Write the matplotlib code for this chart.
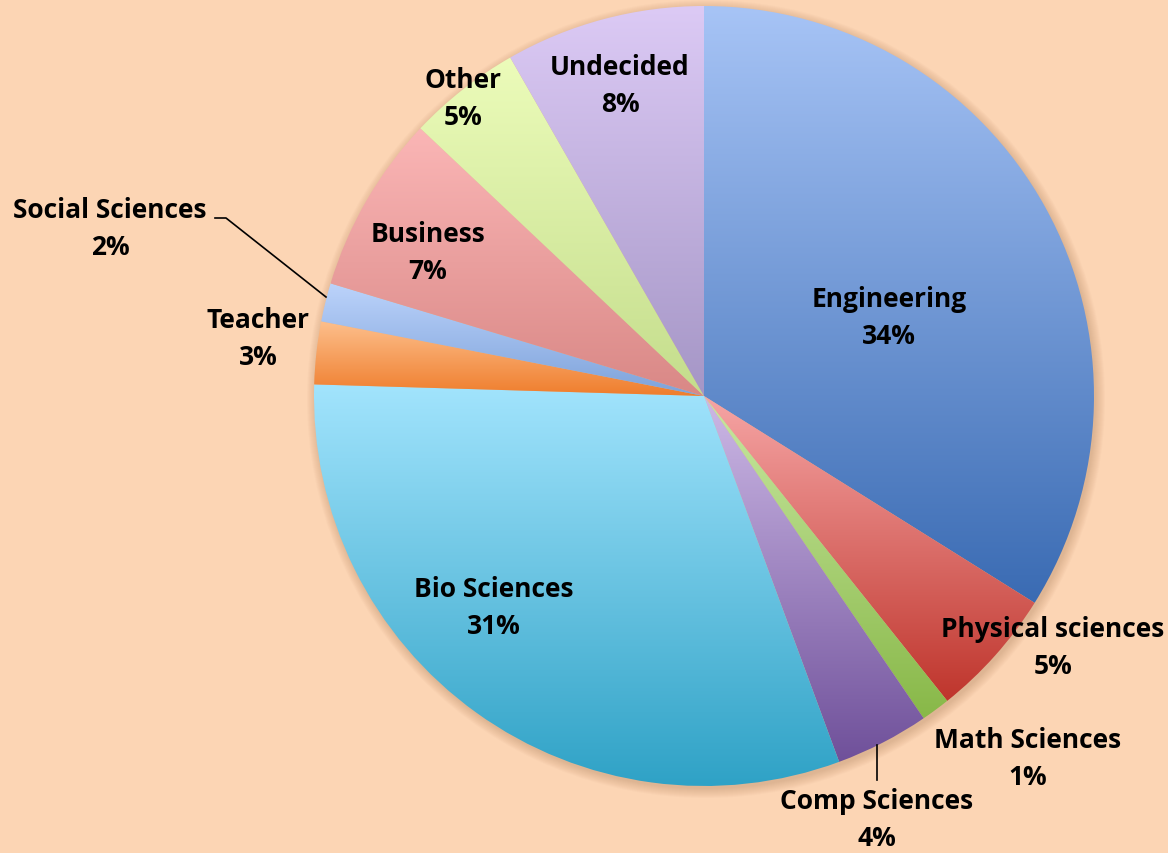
import numpy as np
import matplotlib
matplotlib.use("Agg")
import matplotlib.pyplot as plt
from matplotlib.colors import to_rgb
from matplotlib.patches import Circle

# data (share of students, %)
majors = ["Engineering", "Physical sciences", "Math Sciences", "Comp Sciences",
          "Bio Sciences", "Teacher", "Social Sciences", "Business", "Other", "Undecided"]
shares = [34.0, 5.4, 1.2, 3.9, 31.2, 2.6, 1.6, 7.4, 4.7, 8.3]

# gradient colours per slice (top, bottom)
tops = ["#a7c4f6", "#f6a5a5", "#c9e8a2", "#cdb9e6", "#a2e4fd",
        "#fdbf8c", "#bcd3fb", "#fbb6b6", "#ecfcba", "#dccaf5"]
bottoms = ["#3a6bb3", "#bf352c", "#88b848", "#6f509a", "#2fa2c6",
           "#ef7d2c", "#7da2da", "#d98886", "#c4dd8c", "#a596c6"]

# label positions in pixels (x, y from top)
label_pos = [(889, 318), (1053, 648), (1028, 759), (877, 820), (494, 608),
             (258, 339), (110, 229), (428, 253), (463, 99), (620, 86)]

W, H = 1168, 854
CX, CY, R = 704, H - 397, 390
BG = "#fcd5b4"

fig = plt.figure(figsize=(W / 100, H / 100), dpi=100, facecolor=BG)
ax = fig.add_axes([0, 0, 1, 1])
ax.set_facecolor(BG)

# soft shadow round the pie
for k in range(10):
    ax.add_patch(Circle((CX + 2, CY - 3), R + 9 - k, color="#a0704a",
                        alpha=0.03, lw=0, zorder=0))

wedges, _ = ax.pie(shares, startangle=90, counterclock=False,
                   center=(CX, CY), radius=R, frame=True,
                   wedgeprops=dict(linewidth=0))

for w, c0, c1 in zip(wedges, tops, bottoms):
    t = np.radians(np.linspace(w.theta1, w.theta2, 200))
    xs = np.concatenate([[CX], CX + R * np.cos(t)])
    ys = np.concatenate([[CY], CY + R * np.sin(t)])
    f = np.linspace(0, 1, 256)[:, None, None]
    grad = (1 - f) * np.array(to_rgb(c0)) + f * np.array(to_rgb(c1))
    grad = np.repeat(grad, 2, axis=1)
    im = ax.imshow(grad, extent=[xs.min(), xs.max(), ys.min(), ys.max()],
                   origin="upper", aspect="auto", interpolation="bilinear", zorder=2)
    im.set_clip_path(w)
    w.set_facecolor("none")

pcts = [f"{round(s)}%" for s in shares]
for name, pct, (x, y) in zip(majors, pcts, label_pos):
    ax.text(x, H - y, name + "\n" + pct, ha="center", va="center",
            fontsize=19, fontweight="bold", family="Open Sans",
            linespacing=1.5, zorder=5)

# leader lines
ax.plot([215, 226, 326], [H - 219, H - 219, H - 298], color="black", lw=1.2, zorder=4)
ax.plot([877, 877], [H - 746, H - 781], color="black", lw=1.2, zorder=4)

ax.set_xlim(0, W)
ax.set_ylim(0, H)
ax.set_aspect("equal")
ax.axis("off")

fig.savefig("out.png", dpi=100, facecolor=BG)
